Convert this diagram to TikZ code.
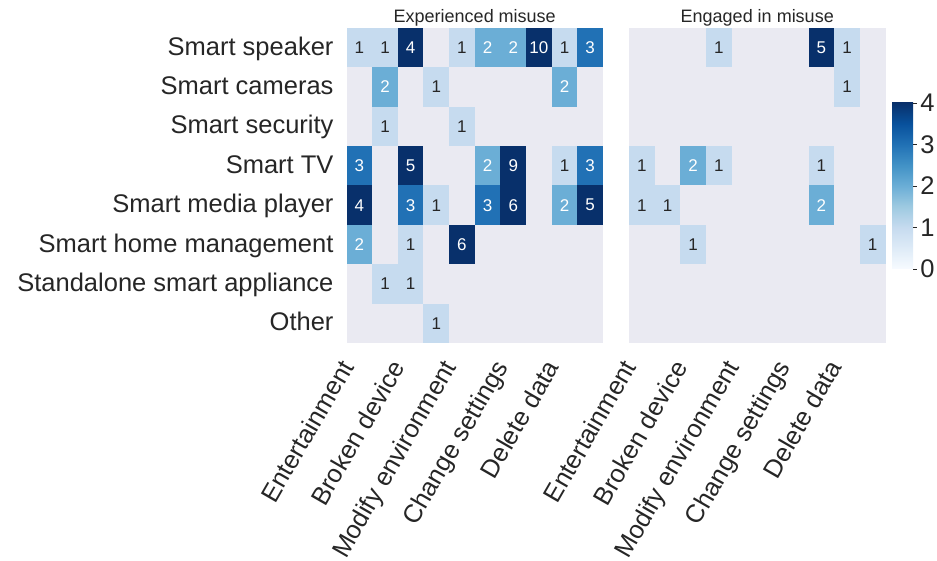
\documentclass[tikz,border=0pt]{standalone}
\usepackage{fontspec}
\setmainfont{Liberation Sans}

\definecolor{txt}{HTML}{262626}
\definecolor{panel}{HTML}{EAEAF2}
\definecolor{blueA}{HTML}{C6DBEF}
\definecolor{blueB}{HTML}{6BAED6}
\definecolor{blueC}{HTML}{2171B5}
\definecolor{blueD}{HTML}{08306B}
\definecolor{b0}{HTML}{F7FBFF}
\definecolor{b1}{HTML}{DEEBF7}
\definecolor{b3}{HTML}{9ECAE1}
\definecolor{b5}{HTML}{4292C6}
\definecolor{b7}{HTML}{08519C}
\pgfdeclareverticalshading{blues}{100bp}{color(0bp)=(b0); color(25bp)=(b0);
  color(31.25bp)=(b1); color(37.5bp)=(blueA); color(43.75bp)=(b3);
  color(50bp)=(blueB); color(56.25bp)=(b5); color(62.5bp)=(blueC);
  color(68.75bp)=(b7); color(75bp)=(blueD); color(100bp)=(blueD)}

\begin{document}
\begin{tikzpicture}[x=1pt,y=-1pt,
        cell/.style={rectangle,inner sep=0pt,minimum width=25.65pt,minimum height=39.375pt,
          font=\fontsize{17}{17}\selectfont},
        one cell/.style={cell,fill=blueA,text=txt},
        two cell/.style={cell,fill=blueB,text=white},
        three cell/.style={cell,fill=blueC,text=white},
        top cell/.style={cell,fill=blueD,text=white},
        row label/.style={anchor=base east,yshift=-7.5pt,inner sep=0pt,text=txt,
          font=\fontsize{25.5}{25.5}\selectfont},
        col label/.style={anchor=base east,xshift=-4.5pt,yshift=-24pt,rotate=60,inner sep=0pt,
          text=txt,font=\fontsize{25.5}{25.5}\selectfont},
        panel title/.style={anchor=base,yshift=5.5pt,inner sep=0pt,text=txt,
          font=\fontsize{18}{18}\selectfont},
        bar label/.style={anchor=west,xshift=3pt,inner sep=0pt,text=txt,
          font=\fontsize{25.5}{25.5}\selectfont}]
        \useasboundingbox (0,0) rectangle (937,561);
        \fill[panel] (346.5,28) rectangle (603,343);
        \fill[panel] (629,28) rectangle (885.5,343);

        % experienced misuse
        \begin{scope}[shift={(333.675,8.3125)},x=25.65pt,y=-39.375pt]
        \node[panel title] (t1) at (5.5,0.5) {Experienced misuse};
        \node[row label] (l1) at (0,1) {Smart speaker};
        \node[row label] (l2) at (0,2) {Smart cameras};
        \node[row label] (l3) at (0,3) {Smart security};
        \node[row label] (l4) at (0,4) {Smart TV};
        \node[row label] (l5) at (0,5) {Smart media player};
        \node[row label] (l6) at (0,6) {Smart home management};
        \node[row label] (l7) at (0,7) {Standalone smart appliance};
        \node[row label] (l8) at (0,8) {Other};
        \node[one cell] (ex-1-1) at (1,1) {1};
        \node[one cell] (ex-1-2) at (2,1) {1};
        \node[top cell] (ex-1-3) at (3,1) {4};
        \node[one cell] (ex-1-5) at (5,1) {1};
        \node[two cell] (ex-1-6) at (6,1) {2};
        \node[two cell] (ex-1-7) at (7,1) {2};
        \node[top cell] (ex-1-8) at (8,1) {10};
        \node[one cell] (ex-1-9) at (9,1) {1};
        \node[three cell] (ex-1-10) at (10,1) {3};
        \node[two cell] (ex-2-2) at (2,2) {2};
        \node[one cell] (ex-2-4) at (4,2) {1};
        \node[two cell] (ex-2-9) at (9,2) {2};
        \node[one cell] (ex-3-2) at (2,3) {1};
        \node[one cell] (ex-3-5) at (5,3) {1};
        \node[three cell] (ex-4-1) at (1,4) {3};
        \node[top cell] (ex-4-3) at (3,4) {5};
        \node[two cell] (ex-4-6) at (6,4) {2};
        \node[top cell] (ex-4-7) at (7,4) {9};
        \node[one cell] (ex-4-9) at (9,4) {1};
        \node[three cell] (ex-4-10) at (10,4) {3};
        \node[top cell] (ex-5-1) at (1,5) {4};
        \node[three cell] (ex-5-3) at (3,5) {3};
        \node[one cell] (ex-5-4) at (4,5) {1};
        \node[three cell] (ex-5-6) at (6,5) {3};
        \node[top cell] (ex-5-7) at (7,5) {6};
        \node[two cell] (ex-5-9) at (9,5) {2};
        \node[top cell] (ex-5-10) at (10,5) {5};
        \node[two cell] (ex-6-1) at (1,6) {2};
        \node[one cell] (ex-6-3) at (3,6) {1};
        \node[top cell] (ex-6-5) at (5,6) {6};
        \node[one cell] (ex-7-2) at (2,7) {1};
        \node[one cell] (ex-7-3) at (3,7) {1};
        \node[one cell] (ex-8-4) at (4,8) {1};
        \node[col label] (x1) at (1,8.5) {Entertainment};
        \node[col label] (x3) at (3,8.5) {Broken device};
        \node[col label] (x5) at (5,8.5) {Modify environment};
        \node[col label] (x7) at (7,8.5) {Change settings};
        \node[col label] (x9) at (9,8.5) {Delete data};
        \end{scope}

        % engaged in misuse
        \begin{scope}[shift={(616.175,8.3125)},x=25.65pt,y=-39.375pt]
        \node[panel title] (t2) at (5.5,0.5) {Engaged in misuse};
        \node[one cell] (en-1-4) at (4,1) {1};
        \node[top cell] (en-1-8) at (8,1) {5};
        \node[one cell] (en-1-9) at (9,1) {1};
        \node[one cell] (en-2-9) at (9,2) {1};
        \node[one cell] (en-4-1) at (1,4) {1};
        \node[two cell] (en-4-3) at (3,4) {2};
        \node[one cell] (en-4-4) at (4,4) {1};
        \node[one cell] (en-4-8) at (8,4) {1};
        \node[one cell] (en-5-1) at (1,5) {1};
        \node[one cell] (en-5-2) at (2,5) {1};
        \node[two cell] (en-5-8) at (8,5) {2};
        \node[one cell] (en-6-3) at (3,6) {1};
        \node[one cell] (en-6-10) at (10,6) {1};
        \node[col label] (y1) at (1,8.5) {Entertainment};
        \node[col label] (y3) at (3,8.5) {Broken device};
        \node[col label] (y5) at (5,8.5) {Modify environment};
        \node[col label] (y7) at (7,8.5) {Change settings};
        \node[col label] (y9) at (9,8.5) {Delete data};
        \end{scope}

        % colour bar
        \shade[shading=blues] (892,103) rectangle (913,269);
        \draw[txt,line width=0.8pt] (913,269) -- (917,269) node[bar label] (c0) {0};
        \draw[txt,line width=0.8pt] (913,227.5) -- (917,227.5) node[bar label] (c1) {1};
        \draw[txt,line width=0.8pt] (913,186) -- (917,186) node[bar label] (c2) {2};
        \draw[txt,line width=0.8pt] (913,144.5) -- (917,144.5) node[bar label] (c3) {3};
        \draw[txt,line width=0.8pt] (913,103) -- (917,103) node[bar label] (c4) {4};
\end{tikzpicture}
\end{document}
